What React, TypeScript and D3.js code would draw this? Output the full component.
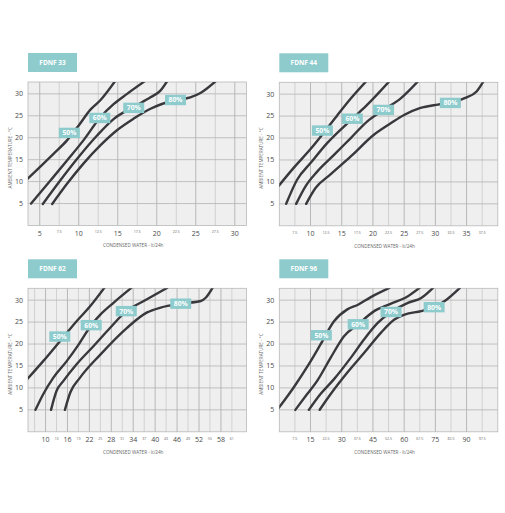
import React, { useRef, useEffect } from 'react';
import * as d3 from 'd3';

type Pt = [number, number];

const humidityLabels = ['50%', '60%', '70%', '80%'];
const tempTicks = [5, 10, 15, 20, 25, 30];
const tempDomain: [number, number] = [0, 32.7];

// FDNF 33
const fdnf33Domain: [number, number] = [3.5, 31.5];
const fdnf33Major = [5, 10, 15, 20, 25, 30];
const fdnf33Minor = [7.5, 12.5, 17.5, 22.5, 27.5];
const fdnf33Rh50: Pt[] = [[3.3, 10.4], [6.8, 16.4], [8.5, 19.4], [10, 22.8], [11.5, 26.4], [12.8, 28.6], [14.7, 33]];
const fdnf33Rh60: Pt[] = [[3.9, 5], [6.4, 10.3], [8.5, 14.8], [10.6, 19.4], [12.7, 24.5], [14.5, 27.7], [16.2, 30], [18.4, 32.8]];
const fdnf33Rh70: Pt[] = [[5.4, 4.9], [7.65, 10.3], [9.8, 15.2], [12.35, 20.5], [14.5, 24.3], [17, 27], [19.2, 29.2], [20.5, 30.8], [21.3, 32.8]];
const fdnf33Rh80: Pt[] = [[6.6, 4.9], [8.5, 9.5], [10.6, 14.1], [12.8, 18.3], [14.9, 21.7], [17, 24.3], [19.2, 26.6], [22.4, 28.6], [24.3, 29.2], [25.6, 30.2], [27.5, 32.8]];
const fdnf33Tags: Pt[] = [[8.8, 21.1], [12.7, 24.5], [17.05, 26.8], [22.4, 28.6]];

// FDNF 44
const fdnf44Domain: [number, number] = [5, 40];
const fdnf44Major = [10, 15, 20, 25, 30, 35];
const fdnf44Minor = [7.5, 12.5, 17.5, 22.5, 27.5, 32.5, 37.5];
const fdnf44Rh50: Pt[] = [[4.9, 9.1], [7.3, 13.2], [10, 17.5], [12, 21.0], [14.3, 25.2], [16.45, 29.0], [18.9, 32.9]];
const fdnf44Rh60: Pt[] = [[6.1, 5], [7.85, 10.5], [10, 14.3], [12.7, 18.9], [16.7, 24.4], [19.1, 27.6], [22.6, 32.9]];
const fdnf44Rh70: Pt[] = [[7.7, 5], [9.2, 9], [11.1, 12.4], [13.8, 16.2], [16.45, 20], [19.1, 23.8], [21.7, 26.4], [24.5, 29.1], [27.2, 32.9]];
const fdnf44Rh80: Pt[] = [[9.3, 5], [10.8, 8.6], [13.2, 11.7], [16.45, 15.8], [20.2, 20.8], [22.9, 23.4], [25.05, 25.3], [27.5, 26.8], [30.4, 27.6], [32.4, 28], [34.7, 29.1], [36.6, 30.6], [37.7, 32.9]];
const fdnf44Tags: Pt[] = [[11.9, 21.7], [16.7, 24.4], [21.7, 26.4], [32.4, 28]];

// FDNF 62
const fdnf62Domain: [number, number] = [5.2, 65];
const fdnf62Major = [10, 16, 22, 28, 34, 40, 46, 52, 58];
const fdnf62Minor = [13, 19, 25, 31, 37, 43, 49, 55, 61];
const fdnf62Rh50: Pt[] = [[5.0, 12.0], [9.36, 16.1], [13.9, 20.6], [18.5, 25.2], [22.2, 28.6], [26.1, 32.8]];
const fdnf62Rh60: Pt[] = [[7.25, 5], [9.36, 8.56], [12.1, 12.3], [15.8, 16.1], [19, 19.8], [22.5, 24.3], [25, 26.7], [28.6, 29.4], [33.5, 32.8]];
const fdnf62Rh70: Pt[] = [[11.5, 5], [13, 9.3], [14.9, 11.6], [18.5, 15.4], [23.1, 19.5], [27.7, 23.7], [32.1, 27.5], [36.9, 29.8], [43.3, 32.8]];
const fdnf62Rh80: Pt[] = [[15.3, 5], [16.8, 9.0], [19.4, 12.3], [25, 17.6], [32.3, 23.7], [37.8, 27.2], [41.5, 28.3], [47, 29.2], [52.5, 29.8], [53.9, 30.6], [55.7, 32.8]];
const fdnf62Tags: Pt[] = [[13.9, 21.7], [22.5, 24.3], [32.1, 27.5], [47, 29.2]];

// FDNF 96
const fdnf96Domain: [number, number] = [0, 105];
const fdnf96Major = [15, 30, 45, 60, 75, 90];
const fdnf96Minor = [7.5, 22.5, 37.5, 52.5, 67.5, 82.5, 97.5];
const fdnf96Rh50: Pt[] = [[-0.5, 5.3], [6.9, 10.1], [14.2, 15.4], [19.8, 19.9], [26.3, 25.2], [32.7, 27.9], [37.6, 28.9], [44, 30.7], [52.9, 32.8]];
const fdnf96Rh60: Pt[] = [[7.7, 5], [13.4, 8.6], [18.2, 11.6], [24.7, 16.9], [31.1, 21.8], [37.9, 24.5], [45.6, 27.5], [53.7, 29.2], [61.8, 30.9], [67.4, 32.8]];
const fdnf96Rh70: Pt[] = [[14.2, 5], [19.8, 8.6], [26.3, 12], [34.4, 16.9], [40.8, 21.1], [47.3, 24.8], [53.7, 27.3], [61.8, 29.4], [68.2, 30.5], [73.9, 32.8]];
const fdnf96Rh80: Pt[] = [[19.4, 5], [24.7, 8.6], [32.7, 13.5], [40.8, 18], [48.9, 22.6], [55.3, 25.6], [60.2, 26.7], [68.2, 27.5], [74.4, 28.4], [79.5, 29.8], [86.8, 32.8]];
const fdnf96Tags: Pt[] = [[20.2, 22], [37.9, 24.5], [53.7, 27.3], [74.4, 28.4]];

interface PanelConfig {
  id: string;
  title: string;
  x: number;
  y: number;
  domain: [number, number];
  major: number[];
  minor: number[];
  curves: Pt[][];
  tags: Pt[];
}

const TEAL = '#8ecbcd';
const LINE = '#38383d';

const App: React.FC = () => {
  const svgRef = useRef<SVGSVGElement>(null);

  useEffect(() => {
    if (!svgRef.current) return;
    const svg = d3.select(svgRef.current);
    svg.selectAll('*').remove();

    const plotW = 218.5;
    const plotH = 143.5;

    const panels: PanelConfig[] = [
      { id: 'p33', title: 'FDNF 33', x: 28, y: 82, domain: fdnf33Domain, major: fdnf33Major, minor: fdnf33Minor,
        curves: [fdnf33Rh50, fdnf33Rh60, fdnf33Rh70, fdnf33Rh80], tags: fdnf33Tags },
      { id: 'p44', title: 'FDNF 44', x: 279.3, y: 82.3, domain: fdnf44Domain, major: fdnf44Major, minor: fdnf44Minor,
        curves: [fdnf44Rh50, fdnf44Rh60, fdnf44Rh70, fdnf44Rh80], tags: fdnf44Tags },
      { id: 'p62', title: 'FDNF 62', x: 28, y: 288.3, domain: fdnf62Domain, major: fdnf62Major, minor: fdnf62Minor,
        curves: [fdnf62Rh50, fdnf62Rh60, fdnf62Rh70, fdnf62Rh80], tags: fdnf62Tags },
      { id: 'p96', title: 'FDNF 96', x: 279.3, y: 288.3, domain: fdnf96Domain, major: fdnf96Major, minor: fdnf96Minor,
        curves: [fdnf96Rh50, fdnf96Rh60, fdnf96Rh70, fdnf96Rh80], tags: fdnf96Tags },
    ];

    panels.forEach(p => {
      const xScale = d3.scaleLinear().domain(p.domain).range([0, plotW]);
      const yScale = d3.scaleLinear().domain(tempDomain).range([plotH, 0]);

      // Title box
      const tg = svg.append('g').attr('transform', `translate(${p.x},${p.y - 29})`);
      tg.append('rect').attr('width', 49).attr('height', 19).style('fill', TEAL);
      tg.append('text')
        .attr('x', 24.5).attr('y', 12.2)
        .attr('text-anchor', 'middle')
        .style('font-family', '"Open Sans", sans-serif')
        .style('font-size', '6.5px')
        .style('font-weight', 'bold')
        .style('fill', 'white')
        .text(p.title);

      const g = svg.append('g').attr('transform', `translate(${p.x},${p.y})`);

      g.append('clipPath').attr('id', `clip-${p.id}`)
        .append('rect').attr('width', plotW).attr('height', plotH);

      // Background
      g.append('rect')
        .attr('width', plotW).attr('height', plotH)
        .style('fill', '#efefef');

      // Vertical grid: every half step between major ticks
      const gridVals = [...p.major, ...p.minor]
        .concat(p.minor.length ? [p.major[0] - (p.minor[0] < p.major[0] ? 0 : p.minor[0] - p.major[0])] : [])
        .filter(v => v > p.domain[0] && v < p.domain[1]);
      const step = p.minor[0] < p.major[0] ? p.major[0] - p.minor[0] : p.minor[0] - p.major[0];
      const lowGrid = d3.min(gridVals)! - step;
      if (lowGrid > p.domain[0] + 0.3) gridVals.push(lowGrid);

      g.append('g').selectAll('line.vgrid')
        .data(Array.from(new Set(gridVals)))
        .enter().append('line')
        .attr('x1', d => xScale(d)).attr('x2', d => xScale(d))
        .attr('y1', 0).attr('y2', plotH)
        .style('stroke', d => p.major.includes(d) ? '#a9a9a9' : '#c9c9c9')
        .style('stroke-width', 0.8);

      // Horizontal grid
      g.append('g').selectAll('line.hgrid')
        .data(tempTicks)
        .enter().append('line')
        .attr('x1', 0).attr('x2', plotW)
        .attr('y1', d => yScale(d)).attr('y2', d => yScale(d))
        .style('stroke', '#b4b4b4')
        .style('stroke-width', 0.8);

      // Border
      g.append('rect')
        .attr('width', plotW).attr('height', plotH)
        .style('fill', 'none')
        .style('stroke', '#b8b8b8')
        .style('stroke-width', 0.8);

      // Curves
      const line = d3.line<Pt>()
        .x(d => xScale(d[0]))
        .y(d => yScale(d[1]))
        .curve(d3.curveMonotoneX);

      g.append('g').attr('clip-path', `url(#clip-${p.id})`)
        .selectAll('path')
        .data(p.curves)
        .enter().append('path')
        .attr('d', d => line(d))
        .style('fill', 'none')
        .style('stroke', LINE)
        .style('stroke-width', 2.4)
        .style('stroke-linecap', 'round');

      // Humidity tags
      p.tags.forEach((t, i) => {
        const cx = xScale(t[0]);
        const cy = yScale(t[1]);
        g.append('rect')
          .attr('x', cx - 10.5).attr('y', cy - 5.2)
          .attr('width', 21).attr('height', 10.4)
          .style('fill', TEAL);
        g.append('text')
          .attr('x', cx).attr('y', cy + 2.5)
          .attr('text-anchor', 'middle')
          .style('font-family', '"Open Sans", sans-serif')
          .style('font-size', '6.8px')
          .style('font-weight', 'bold')
          .style('fill', 'white')
          .text(humidityLabels[i]);
      });

      // Y tick labels
      g.append('g').selectAll('text')
        .data(tempTicks)
        .enter().append('text')
        .attr('x', -5).attr('y', d => yScale(d) + 2.4)
        .attr('text-anchor', 'end')
        .style('font-family', '"Open Sans", sans-serif')
        .style('font-size', '7px')
        .style('fill', '#4a4a4a')
        .text(d => d);

      // X tick labels
      g.append('g').selectAll('text.major')
        .data(p.major)
        .enter().append('text')
        .attr('x', d => xScale(d)).attr('y', plotH + 10.6)
        .attr('text-anchor', 'middle')
        .style('font-family', '"Open Sans", sans-serif')
        .style('font-size', '7px')
        .style('fill', '#4a4a4a')
        .text(d => d);

      g.append('g').selectAll('text.minor')
        .data(p.minor)
        .enter().append('text')
        .attr('x', d => xScale(d)).attr('y', plotH + 7.8)
        .attr('text-anchor', 'middle')
        .style('font-family', '"Open Sans", sans-serif')
        .style('font-size', '3.6px')
        .style('fill', '#666')
        .text(d => d);

      // Axis titles
      g.append('text')
        .attr('x', plotW / 2 - 4).attr('y', plotH + 21.8)
        .attr('text-anchor', 'middle')
        .style('font-family', '"Open Sans", sans-serif')
        .style('font-size', '4.6px')
        .style('fill', '#666')
        .text('CONDENSED WATER - lt/24h');

      g.append('text')
        .attr('transform', `translate(-16.5,${plotH / 2 + 4}) rotate(-90)`)
        .attr('text-anchor', 'middle')
        .style('font-family', '"Open Sans", sans-serif')
        .style('font-size', '4.6px')
        .style('fill', '#666')
        .text('AMBIENT TEMPERATURE - °C');
    });
  }, []);

  return (
    <div style={{ position: 'absolute', left: 0, top: 0 }}>
      <svg ref={svgRef} width={505} height={513} style={{ display: 'block', background: 'white' }} />
    </div>
  );
};

export default App;
